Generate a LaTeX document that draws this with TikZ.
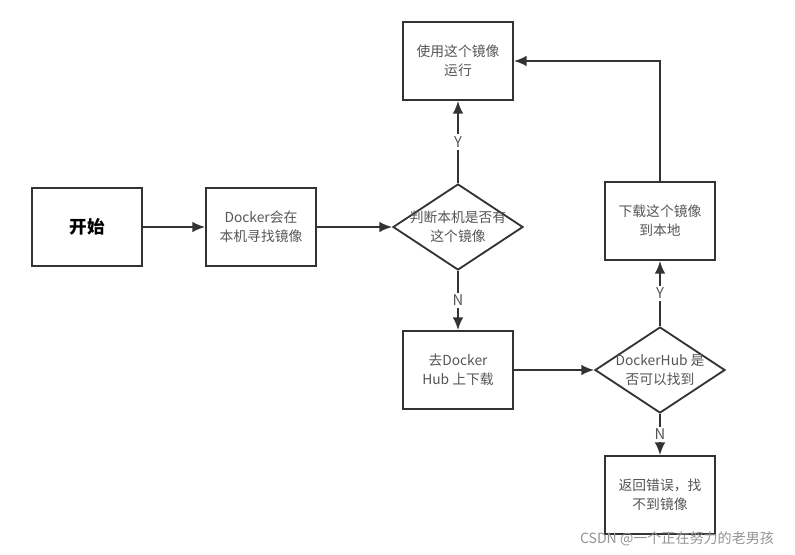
\documentclass[tikz,border=0pt]{standalone}
\usepackage{fontspec}
\newfontfamily\cjk{Noto Sans CJK SC}
\usetikzlibrary{shapes.geometric}
\usetikzlibrary{arrows.meta}
\definecolor{linegray}{HTML}{333333}
\definecolor{txtgray}{HTML}{555555}

\begin{document}
\begin{tikzpicture}[x=0.025cm,y=-0.025cm,
  box/.style={rectangle,draw=linegray,line width=1.3pt,minimum width=2.75cm,minimum height=1.95cm,align=center,text=txtgray,font=\cjk\fontsize{9.8}{13.5}\selectfont},
  decision/.style={diamond,draw=linegray,line width=1.3pt,minimum width=3.25cm,minimum height=2.15cm,inner sep=0pt},
  dtext/.style={align=center,text=txtgray,font=\cjk\fontsize{9.8}{13.5}\selectfont},
  arr/.style={draw=linegray,line width=1.3pt,-{Latex[length=9pt,width=7.5pt]}},
  yn/.style={fill=white,inner sep=1.5pt,text=txtgray,font=\cjk\fontsize{10.5}{12}\selectfont}]
\useasboundingbox (0,0) rectangle (795,554);

\node[box,text=black,font=\cjk\bfseries\fontsize{12.5}{15}\selectfont] (start) at (87,227) {开始};
\node[box] (find) at (261,227) {Docker会在\\本机寻找镜像};
\node[decision,label={[dtext]center:判断本机是否有\\这个镜像}] (q1) at (458,227) {};
\node[box] (run) at (458,61) {使用这个镜像\\运行};
\node[box] (hub) at (458,370) {去Docker\\Hub 上下载};
\node[decision,label={[dtext]center:DockerHub 是\\否可以找到}] (q2) at (660,370) {};
\node[box] (dl) at (660,221) {下载这个镜像\\到本地};
\node[box] (err) at (660,495) {返回错误，找\\不到镜像};

\draw[arr] (start) -- (find);
\draw[arr] (find) -- (q1);
\draw[arr] (q1) -- node[yn] {Y} (run);
\draw[arr] (q1) -- node[yn] {N} (hub);
\draw[arr] (hub) -- (q2);
\draw[arr] (q2) -- node[yn] {Y} (dl);
\draw[arr] (q2) -- node[yn] {N} (err);
\draw[arr] (dl) |- (run);

\node[font=\cjk\fontsize{10}{12}\selectfont,text=gray!85] (mark) at (677,539) {CSDN @一个正在努力的老男孩};
\end{tikzpicture}
\end{document}
